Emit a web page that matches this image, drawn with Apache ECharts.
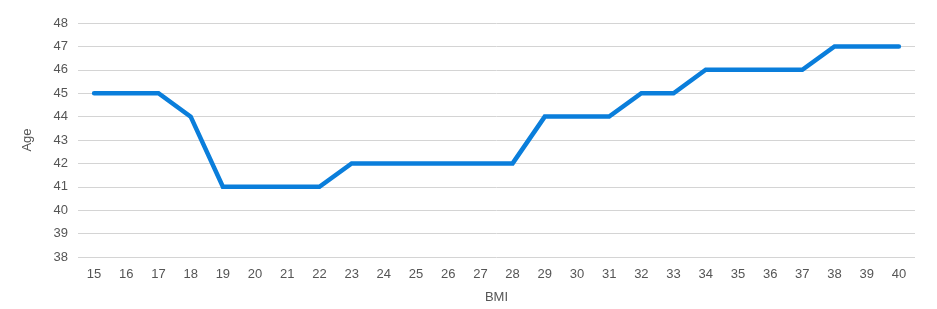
<!DOCTYPE html>
<html><head><meta charset="utf-8">
<script src="https://cdn.jsdelivr.net/npm/echarts@6/dist/echarts.min.js"></script>
<style>html,body{margin:0;padding:0;background:#fff}#c{width:937px;height:309px}</style>
</head><body><div id="c"></div>
<script>
const bmi = ['15','16','17','18','19','20','21','22','23','24','25','26','27','28','29','30','31','32','33','34','35','36','37','38','39','40'];
const age = [45,45,45,44,41,41,41,41,42,42,42,42,42,42,44,44,44,45,45,46,46,46,46,47,47,47];
const chart = echarts.init(document.getElementById('c'));
const font = 'Liberation Sans, Arial, sans-serif';
chart.setOption({
  animation: false,
  grid: {left: 78, right: 22, top: 23, bottom: 51},
  xAxis: {
    type: 'category', data: bmi, boundaryGap: true,
    name: 'BMI', nameLocation: 'middle', nameGap: 34,
    nameTextStyle: {color: '#555', fontSize: 13, fontFamily: font},
    axisLine: {show: false}, axisTick: {show: false},
    axisLabel: {color: '#555', fontSize: 13, fontFamily: font, margin: 11}
  },
  yAxis: {
    type: 'value', min: 38, max: 48, interval: 1,
    name: 'Age', nameLocation: 'middle', nameGap: 44,
    nameTextStyle: {color: '#555', fontSize: 13, fontFamily: font},
    axisLine: {show: false}, axisTick: {show: false},
    axisLabel: {color: '#555', fontSize: 13, fontFamily: font, margin: 10},
    splitLine: {lineStyle: {color: '#d4d4d4', width: 1}}
  },
  series: [{
    type: 'line', data: age, symbol: 'none',
    lineStyle: {color: '#0a7edb', width: 4.5, cap: 'round', join: 'miter'}
  }]
});
</script></body></html>
